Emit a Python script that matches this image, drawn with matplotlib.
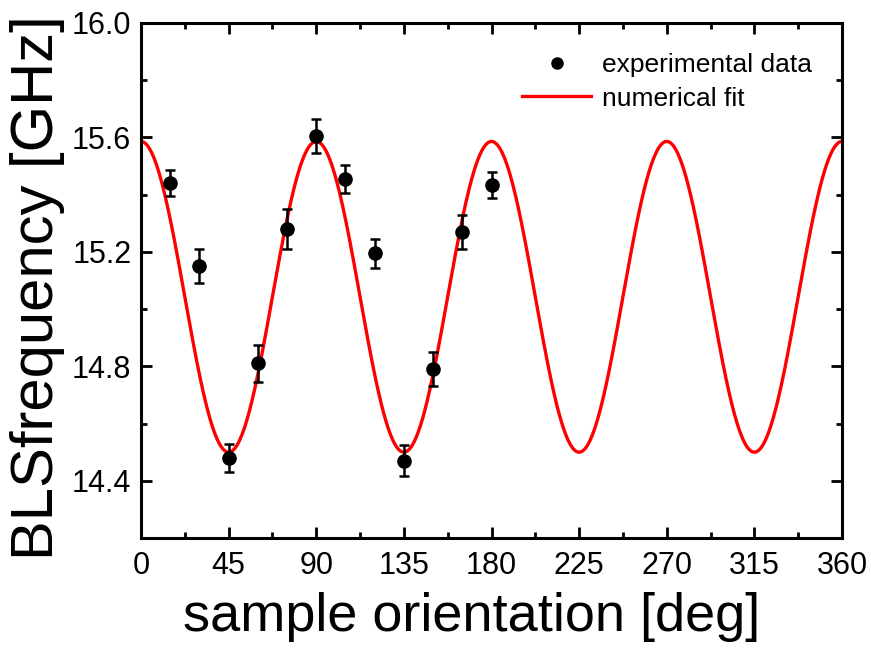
import matplotlib
matplotlib.use('Agg')
import matplotlib.pyplot as plt
from matplotlib.ticker import MultipleLocator, FormatStrFormatter
from matplotlib.lines import Line2D
import numpy as np

angle = [15, 30, 45, 60, 75, 90, 105, 120, 135, 150, 165, 180]
freq = [15.44, 15.15, 14.48, 14.81, 15.28, 15.605, 15.455, 15.195, 14.47, 14.79, 15.27, 15.435]
freq_err = [0.045, 0.06, 0.05, 0.065, 0.07, 0.06, 0.05, 0.05, 0.055, 0.06, 0.06, 0.045]

# numerical fit: offset + amplitude * cos(2*pi*angle/period)
fit_offset = 15.043
fit_amplitude = 0.543
fit_period = 90.0

plt.rcParams['font.family'] = ['Liberation Sans', 'DejaVu Sans']

fig = plt.figure(figsize=(8.71, 6.53), dpi=100)
ax = fig.add_axes([141 / 871, 1 - 538 / 653, 701 / 871, 515 / 653])

theta = np.linspace(0, 360, 1441)
ax.plot(theta, fit_offset + fit_amplitude * np.cos(2 * np.pi * theta / fit_period),
        color='#ff0000', lw=2.4, zorder=2)
ax.errorbar(angle, freq, yerr=freq_err, fmt='o', color='black', ms=9.5,
            elinewidth=1.8, capsize=3.5, capthick=1.8, zorder=3)

ax.set_xlim(0, 360)
ax.set_ylim(14.2, 16.0)
ax.xaxis.set_major_locator(MultipleLocator(45))
ax.xaxis.set_minor_locator(MultipleLocator(22.5))
ax.yaxis.set_major_locator(MultipleLocator(0.4))
ax.yaxis.set_minor_locator(MultipleLocator(0.2))
ax.yaxis.set_major_formatter(FormatStrFormatter('%.1f'))
ax.tick_params(which='both', direction='in', top=True, right=True, width=2)
ax.tick_params(which='major', length=8, labelsize=22)
ax.tick_params(axis='x', which='major', pad=9)
ax.tick_params(axis='y', which='major', pad=7)
ax.tick_params(which='minor', length=4)
for s in ax.spines.values():
    s.set_linewidth(2.2)

ax.set_xlabel('sample orientation [deg]', fontsize=39)
ax.set_ylabel('BLSfrequency [GHz]', fontsize=43)
ax.xaxis.set_label_coords(0.471, -0.105)
ax.yaxis.set_label_coords(-0.108, 0.487)

handles = [Line2D([], [], marker='o', ls='none', color='black', ms=8),
           Line2D([], [], color='#ff0000', lw=2.4)]
ax.legend(handles, ['experimental data', 'numerical fit'], loc='upper right',
          frameon=False, fontsize=19, handlelength=2.6, handletextpad=0.4,
          borderaxespad=0.75, labelspacing=0.35)

fig.savefig('out.png', dpi=100)
